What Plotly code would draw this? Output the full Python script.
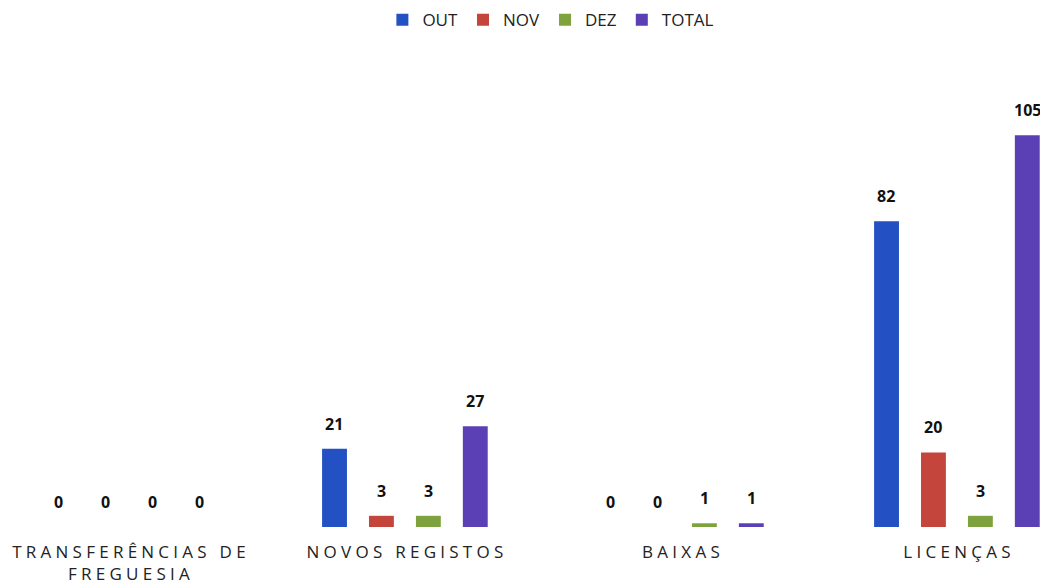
import plotly.graph_objects as go

categories = ["TRANSFERÊNCIAS DE<br>FREGUESIA", "NOVOS REGISTOS", "BAIXAS", "LICENÇAS"]
series_names = ["OUT", "NOV", "DEZ", "TOTAL"]
out_vals = [0, 21, 0, 82]
nov_vals = [0, 3, 0, 20]
dez_vals = [0, 3, 1, 3]
total_vals = [0, 27, 1, 105]
colors = ["#2350c2", "#c4453c", "#7ea23e", "#5a40b4"]

SP = "\u2005"


def spaced(label):
    lines = label.split("<br>")
    out = []
    for ln in lines:
        out.append(SP.join(list(ln)))
    return "<br>".join(out)


tick_text = [spaced(c) for c in categories]
xs = list(range(len(categories)))

fig = go.Figure()
all_vals = [out_vals, nov_vals, dez_vals, total_vals]
for name, vals, col in zip(series_names, all_vals, colors):
    fig.add_trace(go.Bar(
        x=xs, y=vals, name=name, marker=dict(color=col, line=dict(width=0)),
    ))

slot_px = 47
for i, vals in enumerate(all_vals):
    for x, v in zip(xs, vals):
        fig.add_annotation(
            x=x, y=v, text=f"<b>{v}</b>", showarrow=False,
            xanchor="center", yanchor="bottom",
            xshift=(i - 1.5) * slot_px, yshift=12,
            font=dict(family="Open Sans, Liberation Sans, sans-serif", size=16, color="#111111"),
        )

fig.update_layout(
    width=1040, height=579,
    margin=dict(l=0, r=0, t=52, b=60),
    paper_bgcolor="white", plot_bgcolor="white",
    barmode="group", bargap=0.32, bargroupgap=0.47,
    showlegend=True,
    legend=dict(orientation="h", x=0.522, xanchor="center", y=0.979, yanchor="middle",
                yref="container", font=dict(family="Open Sans, Liberation Sans, sans-serif", size=17, color="#222222"),
                itemwidth=30, traceorder="normal"),
    xaxis=dict(
        tickmode="array", tickvals=xs, ticktext=tick_text,
        range=[-0.438, 3.33], showgrid=False, zeroline=False, showline=False,
        ticks="", ticklabelstandoff=13,
        tickfont=dict(family="Open Sans, Liberation Sans, sans-serif", size=17, color="#222222"),
    ),
    yaxis=dict(range=[0, 125.2], visible=False, showgrid=False, zeroline=False),
)

fig.write_html("out.html")
